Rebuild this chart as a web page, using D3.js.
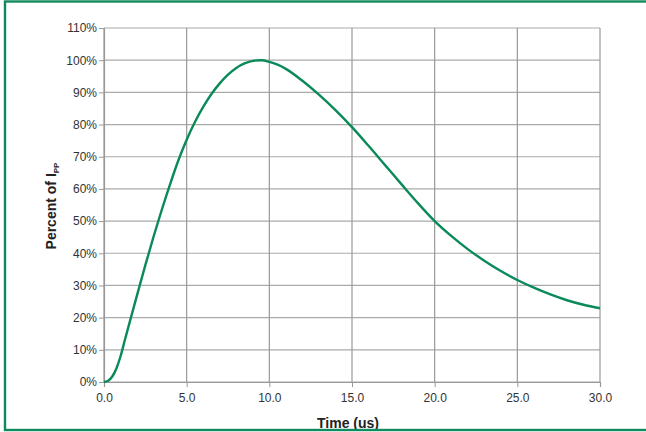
<!DOCTYPE html>
<html>
<head>
<meta charset="utf-8">
<script src="https://cdn.jsdelivr.net/npm/d3@7"></script>
<style>
  body { margin: 0; background: #fff; }
  svg { display: block; }
  .axis text { font: 12px "Liberation Sans", Arial, sans-serif; fill: #333; }
  .axis path, .axis line { stroke: #999; }
</style>
</head>
<body>
<svg class="chart" width="646" height="432"></svg>
<script>
// current waveform
var timeUs = [0, 0.25, 0.5, 0.75, 1.0, 1.25, 1.5, 2.0, 2.5, 3.0, 3.5, 4.0, 4.5, 5.0, 5.5, 6.0, 6.5, 7.0, 7.5, 8.0, 8.5, 9.0, 9.5, 10.0, 10.5,
	11, 12, 13, 14, 15, 16, 17, 18, 19, 20, 21, 22, 23, 24, 25, 26, 27, 28, 29, 30];
var percentIpp = [0, 0.4, 1.7, 4.2, 8, 12.8, 17.6, 27, 36.3, 45.2, 53.6, 61.5, 68.9, 75.3, 80.8, 85.5, 89.5, 92.8, 95.5, 97.6, 99.0, 99.8, 100, 99.5, 98.6,
	97.3, 93.6, 89.3, 84.5, 79.2, 73.4, 67.4, 61.4, 55.5, 50, 45.4, 41.3, 37.7, 34.5, 31.7, 29.3, 27.2, 25.4, 24.0, 22.9];
var xTicks = [0, 5, 10, 15, 20, 25, 30];
var yTicks = [0, 10, 20, 30, 40, 50, 60, 70, 80, 90, 100, 110];

var svg = d3.select(".chart");
var margin = { top: 28, right: 46, bottom: 50, left: 104 };
var width = +svg.attr("width") - margin.left - margin.right;
var height = +svg.attr("height") - margin.top - margin.bottom;

var data = timeUs.map((t, i) => { return { t: t, p: percentIpp[i] }; });

var x = d3.scaleLinear().domain([0, 30]).range([0, width]);
var y = d3.scaleLinear().domain([0, 110]).range([height, 0]);

var g = svg.append("g").attr("transform", "translate(" + margin.left + "," + margin.top + ")");

// grid
g.append("g")
	.selectAll("line.h")
	.data(yTicks)
	.enter().append("line")
		.attr("x1", 0).attr("x2", width)
		.attr("y1", (d) => { return y(d); }).attr("y2", (d) => { return y(d); })
		.attr("stroke", "#aaa").attr("stroke-width", 1.2);

g.append("g")
	.selectAll("line.v")
	.data(xTicks)
	.enter().append("line")
		.attr("y1", 0).attr("y2", height)
		.attr("x1", (d) => { return x(d); }).attr("x2", (d) => { return x(d); })
		.attr("stroke", "#999").attr("stroke-width", 1.2);

g.append("g")
	.attr("class", "axis axis--x")
	.attr("transform", "translate(0," + height + ")")
	.call(d3.axisBottom(x).tickValues(xTicks).tickFormat(d3.format(".1f")).tickSize(5).tickPadding(6));

g.append("g")
	.attr("class", "axis axis--y")
	.call(d3.axisLeft(y).tickValues(yTicks).tickFormat((d) => { return d + "%"; }).tickSize(5).tickPadding(2));

g.selectAll(".axis .domain").attr("stroke-width", 1.2);

var line = d3.line()
	.curve(d3.curveMonotoneX)
	.x((d) => { return x(d.t); })
	.y((d) => { return y(d.p); });

g.append("path")
	.datum(data)
	.attr("fill", "none")
	.attr("stroke", "#0a8a58")
	.attr("stroke-width", 2.4)
	.attr("d", line);

// axis titles
svg.append("text")
	.attr("x", 348)
	.attr("y", 428)
	.attr("text-anchor", "middle")
	.style("font", "bold 14px 'Liberation Sans', Arial, sans-serif")
	.attr("fill", "#222")
	.text("Time (us)");

var yt = svg.append("text")
	.attr("transform", "translate(56,206) rotate(-90)")
	.attr("text-anchor", "middle")
	.style("font", "bold 14px 'Liberation Sans', Arial, sans-serif")
	.attr("fill", "#222");
yt.append("tspan").text("Percent of I");
yt.append("tspan").attr("dy", 3).style("font-size", "8px").text("PP");

// frame
svg.append("rect")
	.attr("x", 5)
	.attr("y", 1.5)
	.attr("width", 700)
	.attr("height", 428.5)
	.attr("fill", "none")
	.attr("stroke", "#138a5e")
	.attr("stroke-width", 2.4);
</script>
</body>
</html>
